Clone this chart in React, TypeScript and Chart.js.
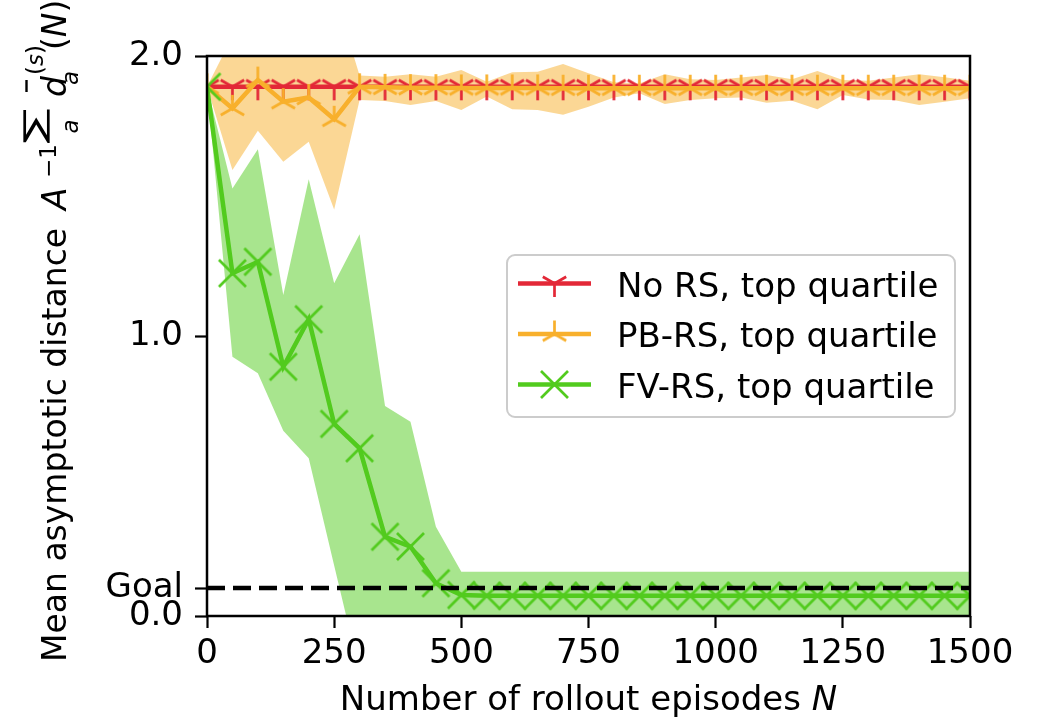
import React, { useEffect, useRef } from "react";
import { Chart, registerables } from "chart.js";

Chart.register(...registerables);

const EPISODES = [0, 50, 100, 150, 200, 250, 300, 350, 400, 450, 500, 550, 600, 650, 700, 750, 800, 850, 900, 950, 1000, 1050, 1100, 1150, 1200, 1250, 1300, 1350, 1400, 1450, 1500];

const NO_RS_TOP = [1.89, 1.89, 1.89, 1.89, 1.89, 1.89, 1.89, 1.89, 1.89, 1.89, 1.89, 1.89, 1.89, 1.89, 1.89, 1.89, 1.89, 1.89, 1.89, 1.89, 1.89, 1.89, 1.89, 1.89, 1.89, 1.89, 1.89, 1.89, 1.89, 1.89, 1.89];

const PB_RS_TOP = [1.89, 1.813, 1.914, 1.837, 1.852, 1.774, 1.89, 1.888, 1.887, 1.887, 1.886, 1.886, 1.886, 1.886, 1.885, 1.885, 1.885, 1.885, 1.885, 1.885, 1.885, 1.885, 1.885, 1.885, 1.885, 1.885, 1.885, 1.885, 1.885, 1.885, 1.885];
const PB_RS_UPPER = [1.89, 2.07, 2.1, 2.06, 2.12, 2.23, 1.93, 1.926, 1.935, 1.926, 1.95, 1.908, 1.942, 1.944, 1.971, 1.938, 1.906, 1.902, 1.935, 1.917, 1.914, 1.923, 1.932, 1.917, 1.946, 1.914, 1.912, 1.923, 1.935, 1.924, 1.912];
const PB_RS_LOWER = [1.89, 1.593, 1.733, 1.622, 1.694, 1.452, 1.843, 1.839, 1.825, 1.839, 1.807, 1.855, 1.81, 1.807, 1.79, 1.819, 1.852, 1.867, 1.829, 1.843, 1.849, 1.852, 1.833, 1.84, 1.81, 1.861, 1.845, 1.843, 1.825, 1.837, 1.849];

const FV_RS_TOP = [1.89, 1.224, 1.265, 0.89, 1.06, 0.686, 0.599, 0.283, 0.248, 0.117, 0.075, 0.072, 0.072, 0.072, 0.072, 0.072, 0.072, 0.072, 0.072, 0.072, 0.072, 0.072, 0.072, 0.072, 0.072, 0.072, 0.072, 0.072, 0.072, 0.072, 0.072];
const FV_RS_UPPER = [1.89, 1.527, 1.667, 1.146, 1.56, 1.188, 1.363, 0.75, 0.694, 0.319, 0.158, 0.158, 0.158, 0.158, 0.158, 0.158, 0.158, 0.158, 0.158, 0.158, 0.158, 0.158, 0.158, 0.158, 0.158, 0.158, 0.158, 0.158, 0.158, 0.158, 0.158];
const FV_RS_LOWER = [1.89, 0.926, 0.867, 0.662, 0.563, 0.18, -0.2, -0.3, -0.3, -0.15, -0.02, -0.02, -0.02, -0.02, -0.02, -0.02, -0.02, -0.02, -0.02, -0.02, -0.02, -0.02, -0.02, -0.02, -0.02, -0.02, -0.02, -0.02, -0.02, -0.02, -0.02];

const GOAL = 0.1;
const GOAL_X = [0, 1500];
const X_TICKS = [0, 250, 500, 750, 1000, 1250, 1500];
const Y_TICK_VALUES = [0, GOAL, 1, 2];
const Y_TICK_LABELS = ["0.0", "Goal", "1.0", "2.0"];
const SERIES_LABELS = ["No RS, top quartile", "PB-RS, top quartile", "FV-RS, top quartile"];

const RED = "rgb(227,40,55)";
const ORANGE = "rgb(248,176,44)";
const GREEN = "rgb(82,203,30)";
const ORANGE_BAND = "rgba(248,176,44,0.5)";
const GREEN_BAND = "rgba(82,203,30,0.5)";
const FAM = '"DejaVu Sans"';
const FS = 34;

type MarkerKind = "tri_down" | "tri_up" | "x";

function makeMarker(kind: MarkerKind, color: string, r: number, lw: number) {
  const size = Math.ceil(2 * (r + lw));
  const c = document.createElement("canvas");
  c.width = size;
  c.height = size;
  const g = c.getContext("2d")!;
  g.strokeStyle = color;
  g.lineWidth = lw;
  g.lineCap = "butt";
  g.translate(size / 2, size / 2);
  g.beginPath();
  if (kind === "x") {
    g.moveTo(-r, -r);
    g.lineTo(r, r);
    g.moveTo(-r, r);
    g.lineTo(r, -r);
  } else {
    const s = kind === "tri_down" ? 1 : -1;
    g.moveTo(0, 0);
    g.lineTo(0, s * r);
    g.moveTo(0, 0);
    g.lineTo(-0.866 * r, -s * 0.5 * r);
    g.moveTo(0, 0);
    g.lineTo(0.866 * r, -s * 0.5 * r);
  }
  g.stroke();
  return c;
}

function pts(arr: number[]) {
  return EPISODES.map((x, i) => ({ x, y: arr[i] }));
}

function drawYTitle(ctx: CanvasRenderingContext2D) {
  const F = 33;
  const S = 23;
  ctx.save();
  ctx.translate(66, 662);
  ctx.rotate(-Math.PI / 2);
  ctx.fillStyle = "#000";
  ctx.strokeStyle = "#000";
  ctx.textBaseline = "alphabetic";
  ctx.textAlign = "left";
  ctx.font = `${F}px ${FAM}`;
  ctx.fillText("Mean asymptotic distance", 0, 0);
  ctx.font = `italic ${F}px ${FAM}`;
  ctx.fillText("A", 452, 0);
  ctx.font = `${S}px ${FAM}`;
  ctx.fillText("\u22121", 484, -10);
  // big sum
  ctx.save();
  ctx.font = `${F}px ${FAM}`;
  const m = ctx.measureText("\u2211");
  const w = m.actualBoundingBoxLeft + m.actualBoundingBoxRight;
  const h = m.actualBoundingBoxAscent + m.actualBoundingBoxDescent;
  ctx.translate(518, -16);
  ctx.scale(35 / w, 27 / h);
  ctx.fillText("\u2211", m.actualBoundingBoxLeft, -m.actualBoundingBoxDescent);
  ctx.restore();
  ctx.font = `italic ${S}px ${FAM}`;
  ctx.textAlign = "center";
  ctx.fillText("a", 535.5, 11.5);
  ctx.textAlign = "left";
  ctx.font = `italic ${F}px ${FAM}`;
  ctx.fillText("d", 565, 0);
  ctx.lineWidth = 2.4;
  ctx.beginPath();
  ctx.moveTo(570, -39.5);
  ctx.lineTo(582, -39.5);
  ctx.stroke();
  ctx.font = `italic ${S}px ${FAM}`;
  ctx.fillText("a", 577, 12);
  let u = 587;
  ctx.font = `${S}px ${FAM}`;
  ctx.fillText("(", u, -23);
  u += ctx.measureText("(").width;
  ctx.font = `italic ${S}px ${FAM}`;
  ctx.fillText("s", u, -23);
  u += ctx.measureText("s").width;
  ctx.font = `${S}px ${FAM}`;
  ctx.fillText(")", u, -23);
  u = 612;
  ctx.font = `${F}px ${FAM}`;
  ctx.fillText("(", u, 0);
  u += ctx.measureText("(").width;
  ctx.font = `italic ${F}px ${FAM}`;
  ctx.fillText("N", u, 0);
  u += ctx.measureText("N").width;
  ctx.font = `${F}px ${FAM}`;
  ctx.fillText(")", u, 0);
  ctx.restore();
}

function drawXTitle(ctx: CanvasRenderingContext2D, cx: number) {
  ctx.save();
  ctx.fillStyle = "#000";
  ctx.textBaseline = "alphabetic";
  ctx.textAlign = "left";
  const a = "Number of rollout episodes ";
  ctx.font = `${FS}px ${FAM}`;
  const wa = ctx.measureText(a).width;
  ctx.font = `italic ${FS}px ${FAM}`;
  const wb = ctx.measureText("N").width;
  const x0 = cx - (wa + wb) / 2;
  ctx.font = `${FS}px ${FAM}`;
  ctx.fillText(a, x0, 710);
  ctx.font = `italic ${FS}px ${FAM}`;
  ctx.fillText("N", x0 + wa, 710);
  ctx.restore();
}

function roundRect(ctx: CanvasRenderingContext2D, x: number, y: number, w: number, h: number, r: number) {
  ctx.beginPath();
  ctx.moveTo(x + r, y);
  ctx.lineTo(x + w - r, y);
  ctx.arcTo(x + w, y, x + w, y + r, r);
  ctx.lineTo(x + w, y + h - r);
  ctx.arcTo(x + w, y + h, x + w - r, y + h, r);
  ctx.lineTo(x + r, y + h);
  ctx.arcTo(x, y + h, x, y + h - r, r);
  ctx.lineTo(x, y + r);
  ctx.arcTo(x, y, x + r, y, r);
  ctx.closePath();
}

export default function App() {
  const ref = useRef<HTMLCanvasElement | null>(null);

  useEffect(() => {
    const canvas = ref.current;
    if (!canvas) return;
    const R = 13.5;
    const MLW = 2.7;
    const redM = makeMarker("tri_down", RED, R, MLW);
    const orangeM = makeMarker("tri_up", ORANGE, R, MLW);
    const greenM = makeMarker("x", GREEN, R, MLW);
    const LW = 4.5;

    const overlay = {
      id: "overlay",
      afterDraw(chart: any) {
        const ctx: CanvasRenderingContext2D = chart.ctx;
        const a = chart.chartArea;
        ctx.save();
        ctx.strokeStyle = "#000";
        ctx.lineWidth = 2.5;
        ctx.strokeRect(a.left, a.top, a.right - a.left, a.bottom - a.top);
        const lx = 507, ly = 255, lw = 448, lh = 162;
        roundRect(ctx, lx, ly, lw, lh, 8);
        ctx.fillStyle = "rgba(255,255,255,0.85)";
        ctx.fill();
        ctx.strokeStyle = "rgb(204,204,204)";
        ctx.lineWidth = 2;
        ctx.stroke();
        const rows = [283.5, 334, 384.5];
        const colors = [RED, ORANGE, GREEN];
        const marks = [redM, orangeM, greenM];
        rows.forEach((ry, i) => {
          ctx.strokeStyle = colors[i];
          ctx.lineWidth = LW;
          ctx.beginPath();
          ctx.moveTo(518, ry);
          ctx.lineTo(591, ry);
          ctx.stroke();
          const mk = marks[i];
          ctx.drawImage(mk, 554.5 - mk.width / 2, ry - mk.height / 2);
          ctx.fillStyle = "#000";
          ctx.font = `${FS}px ${FAM}`;
          ctx.textBaseline = "alphabetic";
          ctx.textAlign = "left";
          ctx.fillText(SERIES_LABELS[i], 617, ry + 13);
        });
        ctx.restore();
        drawYTitle(ctx);
        drawXTitle(ctx, (a.left + a.right) / 2);
      },
    };

    const band = (arr: number[], fill: any, bg: string, order: number) => ({
      data: pts(arr),
      borderColor: "rgba(0,0,0,0)",
      borderWidth: 0,
      pointRadius: 0,
      backgroundColor: bg,
      fill,
      order,
      clip: 0,
    });

    const chart = new Chart(canvas, {
      type: "line",
      data: {
        datasets: [
          band(PB_RS_UPPER, "+1", ORANGE_BAND, 10),
          band(PB_RS_LOWER, false, ORANGE_BAND, 10),
          band(FV_RS_UPPER, "+1", GREEN_BAND, 9),
          band(FV_RS_LOWER, false, GREEN_BAND, 9),
          {
            label: SERIES_LABELS[0],
            data: pts(NO_RS_TOP),
            borderColor: RED,
            borderWidth: LW,
            pointStyle: redM as any,
            pointRadius: R,
            fill: false,
            order: 5,
            clip: 0,
          },
          {
            label: SERIES_LABELS[1],
            data: pts(PB_RS_TOP),
            borderColor: ORANGE,
            borderWidth: LW,
            pointStyle: orangeM as any,
            pointRadius: R,
            fill: false,
            order: 4,
            clip: 0,
          },
          {
            label: SERIES_LABELS[2],
            data: pts(FV_RS_TOP),
            borderColor: GREEN,
            borderWidth: LW,
            pointStyle: greenM as any,
            pointRadius: R,
            fill: false,
            order: 3,
            clip: 0,
          },
          {
            label: "Goal",
            data: GOAL_X.map((x) => ({ x, y: GOAL })),
            borderColor: "#000",
            borderWidth: 4.3,
            borderDash: [18, 8],
            pointRadius: 0,
            fill: false,
            order: 1,
            clip: 0,
          },
        ] as any,
      },
      options: {
        responsive: false,
        animation: false,
        devicePixelRatio: 1,
        layout: { padding: { left: 0, top: 56, right: 70, bottom: 0 } },
        elements: { line: { tension: 0 } },
        plugins: {
          legend: { display: false },
          tooltip: { enabled: false },
        },
        scales: {
          x: {
            type: "linear",
            min: 0,
            max: 1500,
            afterBuildTicks: (s: any) => {
              s.ticks = X_TICKS.map((v) => ({ value: v }));
            },
            afterFit: (s: any) => {
              s.height = 105;
            },
            ticks: {
              autoSkip: false,
              maxRotation: 0,
              padding: 6,
              color: "#000",
              font: { family: "DejaVu Sans", size: FS },
              callback: (v: any) => String(v),
            },
            grid: {
              drawOnChartArea: false,
              drawTicks: true,
              tickLength: 12,
              tickColor: "#000",
              tickWidth: 2.2,
            },
            border: { display: false },
          },
          y: {
            type: "linear",
            min: 0,
            max: 2,
            afterBuildTicks: (s: any) => {
              s.ticks = Y_TICK_VALUES.map((v) => ({ value: v }));
            },
            afterFit: (s: any) => {
              s.width = 207;
            },
            ticks: {
              autoSkip: false,
              padding: 12,
              color: "#000",
              font: { family: "DejaVu Sans", size: FS },
              callback: (v: any) => {
                const i = Y_TICK_VALUES.findIndex((t) => Math.abs(t - v) < 1e-9);
                return i >= 0 ? Y_TICK_LABELS[i] : "";
              },
            },
            grid: {
              drawOnChartArea: false,
              drawTicks: true,
              tickLength: 12,
              tickColor: "#000",
              tickWidth: 2.2,
            },
            border: { display: false },
          },
        },
      } as any,
      plugins: [overlay],
    });
    return () => chart.destroy();
  }, []);

  return (
    <div style={{ position: "fixed", left: 0, top: 0, width: 1040, height: 721, background: "#fff" }}>
      <canvas ref={ref} width={1040} height={721} style={{ display: "block" }} />
    </div>
  );
}
